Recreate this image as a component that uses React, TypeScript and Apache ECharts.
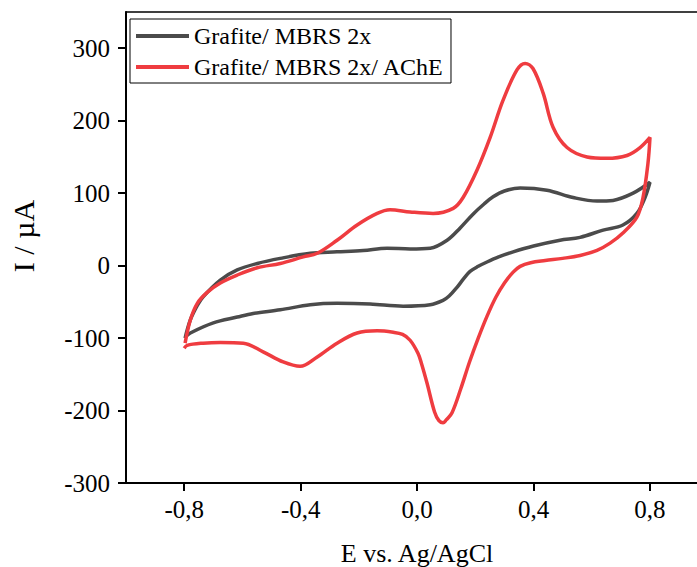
import React, { useEffect, useRef } from "react";
import * as echarts from "echarts";

const seriesNames = ["Grafite/ MBRS 2x", "Grafite/ MBRS 2x/ AChE"];
const seriesColors = ["#4b4b4b", "#ef3c40"];

// Grafite/ MBRS 2x : forward scan then reverse scan (E in V, I in µA)
const mbrsE = [
  -0.797, -0.779, -0.755, -0.735, -0.676, -0.618, -0.549, -0.47, -0.367, -0.275, -0.185, -0.103, -0.024,
  0.045, 0.103, 0.148, 0.192, 0.23, 0.261, 0.3, 0.354, 0.446, 0.536, 0.618, 0.673, 0.742, 0.8,
  0.783, 0.755, 0.707, 0.639, 0.56, 0.491, 0.4, 0.33, 0.28, 0.24, 0.21, 0.182, 0.16, 0.137, 0.11, 0.089,
  0.045, -0.048, -0.161, -0.275, -0.367, -0.47, -0.563, -0.618, -0.7, -0.779, -0.797,
];
const mbrsI = [
  -100, -75, -55, -43, -20, -6, 3, 10, 17, 19, 21, 24, 23,
  24, 35, 52, 71, 85, 95, 103, 107, 104, 94, 89, 90, 100, 115,
  94, 72, 56, 49, 39, 35, 27, 19, 12, 5, -1, -8, -18, -30, -42, -48,
  -54, -56, -53, -52, -54, -61, -66, -71, -79, -93, -99,
];

// Grafite/ MBRS 2x/ AChE
const acheE = [
  -0.797, -0.779, -0.755, -0.721, -0.676, -0.618, -0.549, -0.47, -0.391, -0.343, -0.275, -0.206, -0.137,
  -0.093, -0.024, 0.055, 0.124, 0.158, 0.206, 0.251, 0.295, 0.343, 0.371, 0.398, 0.433, 0.467, 0.515,
  0.584, 0.652, 0.721, 0.766, 0.8,
  0.793, 0.776, 0.755, 0.707, 0.663, 0.618, 0.56, 0.5, 0.44, 0.39, 0.354, 0.33, 0.3, 0.27, 0.24, 0.21,
  0.18, 0.15, 0.12, 0.1, 0.089, 0.075, 0.06, 0.034, 0.015, 0.003, -0.024, -0.05, -0.082, -0.137, -0.206,
  -0.275, -0.343, -0.402, -0.46, -0.529, -0.597, -0.676, -0.735, -0.79, -0.8,
];
const acheI = [
  -107, -75, -52, -37, -24, -13, -3, 3, 12, 17, 35, 56, 72,
  77, 74, 72, 79, 94, 132, 177, 228, 270, 279, 272, 238, 191, 163,
  150, 148, 152, 163, 177,
  141, 94, 67, 45, 31, 21, 14, 10, 7, 4, -1, -9, -24, -44, -70, -100,
  -133, -170, -203, -213, -217, -214, -202, -162, -135, -121, -103, -95, -92, -90, -93,
  -107, -126, -139, -133, -119, -107, -106, -107, -110, -114,
];

const xTicks = [-0.8, -0.4, 0, 0.4, 0.8];
const yTicks = [-300, -200, -100, 0, 100, 200, 300];
const xTitle = "E vs. Ag/AgCl";
const yTitle = "I / µA";

const FONT = "Liberation Serif";

export default function App() {
  const ref = useRef<HTMLDivElement>(null);
  useEffect(() => {
    if (!ref.current) return;
    const chart = echarts.init(ref.current, undefined, { renderer: "svg" });
    const pairs = (xs: number[], ys: number[]) => xs.map((x, i) => [x, ys[i]]);
    const xMin = -1.0;
    const xMax = 0.9615;
    chart.setOption({
      animation: false,
      backgroundColor: "#ffffff",
      grid: {
        left: 126,
        top: 12,
        bottom: 84,
        right: 0,
        show: false,
      },
      xAxis: [
        {
          type: "value",
          min: xMin,
          max: xMax,
          splitLine: { show: false },
          axisLine: { show: true, onZero: false, lineStyle: { color: "#000", width: 2 } },
          axisTick: { show: true, customValues: xTicks, length: 8, inside: false, lineStyle: { color: "#000", width: 2 } },
          axisLabel: {
            customValues: xTicks,
            margin: 14,
            fontFamily: FONT,
            fontSize: 25,
            color: "#000",
            formatter: (v: number) => v.toFixed(1).replace(".", ","),
          },
        },
        {
          type: "value",
          position: "top",
          min: xMin,
          max: xMax,
          splitLine: { show: false },
          axisLine: { show: true, onZero: false, lineStyle: { color: "#000", width: 1.5 } },
          axisTick: { show: false },
          axisLabel: { show: false },
        },
      ],
      yAxis: {
        type: "value",
        min: -300,
        max: 350,
        splitLine: { show: false },
        axisLine: { show: true, onZero: false, lineStyle: { color: "#000", width: 2 } },
        axisTick: { show: true, customValues: yTicks, length: 8, inside: false, lineStyle: { color: "#000", width: 2 } },
        axisLabel: {
          customValues: yTicks,
          margin: 16,
          fontFamily: FONT,
          fontSize: 25,
          color: "#000",
        },
      },
      legend: {
        orient: "vertical",
        left: 130,
        top: 19,
        padding: [5, 7, 4, 6],
        itemGap: 7,
        itemWidth: 53,
        itemHeight: 4,
        icon: "rect",
        borderColor: "#000",
        borderWidth: 1,
        backgroundColor: "#fff",
        textStyle: { fontFamily: FONT, fontSize: 24, color: "#000", lineHeight: 24 },
        data: seriesNames,
      },
      graphic: [
        {
          type: "text",
          x: 417,
          y: 553,
          style: {
            text: xTitle,
            font: `26px ${FONT}`,
            fill: "#000",
            textAlign: "center",
            textVerticalAlign: "middle",
          },
        },
        {
          type: "text",
          x: 23,
          y: 236,
          rotation: Math.PI / 2,
          style: {
            text: yTitle,
            font: `30px ${FONT}`,
            fill: "#000",
            textAlign: "center",
            textVerticalAlign: "middle",
          },
        },
      ],
      series: [
        {
          name: seriesNames[0],
          type: "line",
          xAxisIndex: 0,
          data: pairs(mbrsE, mbrsI),
          smooth: 0.35,
          showSymbol: false,
          color: seriesColors[0],
          lineStyle: { color: seriesColors[0], width: 3.5 },
          z: 2,
        },
        {
          name: seriesNames[1],
          type: "line",
          xAxisIndex: 0,
          data: pairs(acheE, acheI),
          smooth: 0.35,
          showSymbol: false,
          color: seriesColors[1],
          lineStyle: { color: seriesColors[1], width: 3.5 },
          z: 3,
        },
      ],
    });
    return () => chart.dispose();
  }, []);
  return (
    <div
      ref={ref}
      style={{ position: "absolute", left: 0, top: 0, width: 697, height: 567, overflow: "hidden" }}
    />
  );
}
